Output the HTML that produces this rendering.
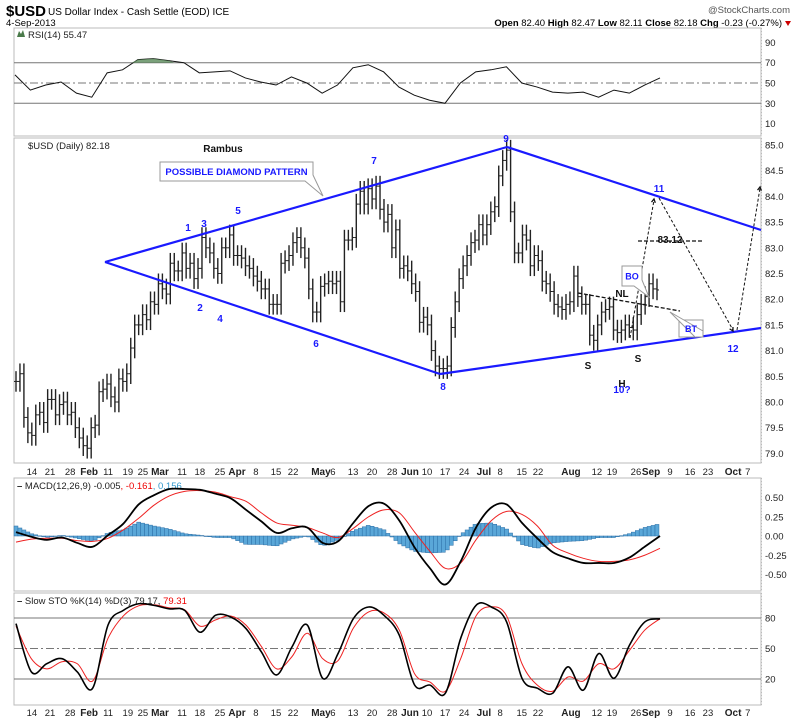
<!DOCTYPE html>
<html><head><meta charset="utf-8"><style>
body{margin:0;background:#fff;}
svg{display:block;font-family:"Liberation Sans",sans-serif;}
</style></head><body>
<svg id="chart" width="799" height="720" viewBox="0 0 799 720" xmlns="http://www.w3.org/2000/svg">
<rect width="799" height="720" fill="#fff"/>
<g>
<text x="6" y="16" font-size="15" font-weight="bold">$USD</text>
<text x="48" y="15" font-size="10">US Dollar Index - Cash Settle (EOD) ICE</text>
<text x="6" y="26" font-size="9.5">4-Sep-2013</text>
<text x="790" y="13" font-size="9.5" text-anchor="end" fill="#555">@StockCharts.com</text>
<text x="782" y="26" font-size="9.5" text-anchor="end"><tspan font-weight="bold">Open</tspan> 82.40 <tspan font-weight="bold">High</tspan> 82.47 <tspan font-weight="bold">Low</tspan> 82.11 <tspan font-weight="bold">Close</tspan> 82.18 <tspan font-weight="bold">Chg</tspan> -0.23 (-0.27%)</text>
<path d="M785 21 L791 21 L788 26 Z" fill="#c00"/>
</g>
<g id="panels"></g>
<g id="marks"></g>
<g id="annot"></g>
</svg>
<script>
const closes=[80.4,80.55,79.7,79.4,79.35,79.75,79.8,79.6,80.05,80.05,
79.75,79.95,80.0,79.75,79.8,79.5,79.3,79.15,79.1,79.5,
79.55,80.2,80.25,80.35,80.1,80.0,80.45,80.4,80.55,81.05,
81.5,81.5,81.7,81.6,81.95,81.9,82.3,82.2,82.1,82.7,
82.55,82.55,82.9,82.6,82.7,82.4,82.6,83.2,83.0,82.9,
82.6,82.5,83.0,83.0,83.25,82.85,82.85,82.8,82.65,82.6,
82.45,82.35,82.2,82.2,81.9,81.9,81.9,82.7,82.75,82.85,
83.1,83.2,83.0,82.8,82.2,81.75,81.75,82.25,
82.3,82.35,82.3,82.35,81.95,83.15,83.15,83.2,83.85,84.1,
83.85,84.15,83.95,84.2,83.75,83.5,83.65,83.0,83.35,82.6,
82.65,82.55,82.3,82.15,81.55,81.65,81.5,81.0,80.7,80.65,
80.65,80.7,81.45,81.95,82.4,82.65,82.85,83.1,83.15,83.45,
83.25,83.45,83.7,83.8,84.4,84.7,84.9,83.7,82.9,82.9,83.25,83.15,82.65,82.85,
82.75,82.35,82.3,82.15,81.9,81.85,81.8,81.9,81.95,82.45,
82.05,81.9,81.9,81.3,81.2,81.5,81.75,81.8,81.85,81.4,
81.35,81.4,81.5,81.45,81.4,81.7,81.9,82.05,82.3,82.2,82.18];
const rsi=[58,43,48,51,40,36,60,63,73,74,72,70,60,61,62,55,51,48,56,50,40,48,65,68,61,46,38,33,30,50,61,63,66,50,46,41,40,41,36,43,40,48,55];
const macd=[0.05,-0.01,-0.05,-0.02,-0.09,-0.14,0.01,0.16,0.41,0.53,0.61,0.61,0.6,0.55,0.49,0.34,0.19,0.04,0.1,0.11,-0.09,-0.07,0.17,0.39,0.42,0.2,-0.15,-0.42,-0.63,-0.33,0.11,0.37,0.41,0.17,-0.03,-0.21,-0.29,-0.35,-0.35,-0.35,-0.28,-0.14,0.0];
const signal=[-0.08,-0.04,-0.03,-0.03,-0.06,-0.07,-0.03,0.08,0.23,0.4,0.52,0.58,0.59,0.57,0.51,0.45,0.3,0.17,0.14,0.11,0.04,-0.02,0.1,0.25,0.34,0.3,0.05,-0.2,-0.42,-0.35,-0.05,0.2,0.32,0.28,0.13,-0.12,-0.22,-0.29,-0.33,-0.33,-0.31,-0.25,-0.16];
const stoK=[74.5,27,35,40,27,11,73,87.5,94,92.4,89,87.5,66,82.6,81,69.6,46.7,24,51.6,73,20.7,45,79.3,90.8,82.6,63,14,14,6,60,92.4,90.8,76,20.7,11,6,32,9,45,20.7,53,76,79.17];
const stoD=[72,40,30,37,35,18,60,82,92,93,90,88,72,78,82,73,52,30,42,65,40,38,70,86,85,68,25,17,8,40,82,91,82,35,14,8,22,18,35,30,48,68,79.31];
const priceTicks=["85.0","84.5","84.0","83.5","83.0","82.5","82.0","81.5","81.0","80.5","80.0","79.5","79.0"];
const rsiTicks=[90,70,50,30,10];
const macdTicks=["0.50","0.25","0.00","-0.25","-0.50"];
const stoTicks=[80,50,20];
const dateLabels=["14","21","28","Feb","11","19","25","Mar","11","18","25","Apr","8","15","22","May","6","13","20","28","Jun","10","17","24","Jul","8","15","22","Aug","12","19","26","Sep","9","16","23","Oct","7"];
const dateDays=[4.1,8.8,14,18.9,23.8,28.9,32.8,37.2,42.9,47.5,52.7,57.1,62,67.2,71.6,78.8,81.9,87.1,92,97.2,101.8,106.2,110.9,115.8,120.9,125.1,130.7,134.9,143.4,150.1,154,160.2,164.1,169,174.2,178.8,185.3,189.1];

const NS="http://www.w3.org/2000/svg";
function mk(parent,tag,attrs){const e=document.createElementNS(NS,tag);for(const k in attrs)e.setAttribute(k,attrs[k]);parent.appendChild(e);return e;}
const L=14,R=761,X0=16,X1=657;
const panels=document.getElementById('panels'),marks=document.getElementById('marks'),annot=document.getElementById('annot');
function xBar(i){return X0+i*(X1-X0)/(closes.length-1);}
function xSeries(i,n,xs,xe){return xs+i*(xe-xs)/(n-1);}
function xDay(d){return X0+d*3.87;}
const yPrice=v=>145+(85-v)*51.4;
const yRsi=v=>83-(v-50)*1.015;
const yMacd=v=>536-v*77;
const ySto=v=>648.5-(v-50)*1.017;

function panel(name,y0,y1){const r=mk(panels,'rect',{x:L,y:y0,width:R-L,height:y1-y0,fill:'#fff',stroke:'#bbb','stroke-width':1});


mk(panels,'line',{x1:R+0.5,y1:y0,x2:R+0.5,y2:y1,stroke:'#bbb','stroke-dasharray':'1,2'});}
panel('rsi-panel',28,136);panel('price-panel',138,463);panel('macd-panel',478,591);panel('sto-panel',593,705);

function axisLabel(txt,y,name){const t=mk(panels,'text',{x:765,y:y+3.5,'font-size':9.5,fill:'#222'});t.textContent=txt;

}
priceTicks.forEach(s=>axisLabel(s,yPrice(parseFloat(s)),'price-tick-label'));
rsiTicks.forEach(v=>axisLabel(String(v),yRsi(v),'rsi-tick-label'));
macdTicks.forEach(s=>axisLabel(s,yMacd(parseFloat(s)),'macd-tick-label'));
stoTicks.forEach(v=>axisLabel(String(v),ySto(v),'sto-tick-label'));

function hline(y,dash,name){const l=mk(panels,'line',{x1:L,y1:y,x2:R,y2:y,stroke:'#777','stroke-width':1});if(dash)l.setAttribute('stroke-dasharray','8,3,2,3');

}
hline(yRsi(70),false,'rsi-70-line');hline(yRsi(30),false,'rsi-30-line');hline(yRsi(50),true,'rsi-50-line');
hline(ySto(80),false,'sto-80-line');hline(ySto(20),false,'sto-20-line');hline(ySto(50),true,'sto-50-line');

function dates(y){dateLabels.forEach((s,i)=>{const bold=isNaN(parseInt(s));const t=mk(panels,'text',{x:xDay(dateDays[i]),y:y,'font-size':bold?10:9.5,'font-weight':bold?'bold':'normal','text-anchor':'middle',fill:'#222'});t.textContent=s;

});}
dates(475);dates(716);

function lbl(x,y,html,name){const t=mk(panels,'text',{x:x,y:y,'font-size':9.5,fill:'#222'});t.innerHTML=html;

}
lbl(28,38,'RSI(14) 55.47','rsi-legend');
mk(panels,'path',{d:'M17 37 L19 31 L21 34 L23 30 L25 37 Z',fill:'#4a7a4a'});
lbl(28,149,'$USD (Daily) 82.18','price-legend');
lbl(17,489,'<tspan font-weight="bold">–</tspan> MACD(12,26,9) -0.005<tspan fill="#e00">, -0.161</tspan><tspan fill="#39c">, 0.156</tspan>','macd-legend');
lbl(17,604,'<tspan font-weight="bold">–</tspan> Slow STO %K(14) %D(3) 79.17, <tspan fill="#e00">79.31</tspan>','sto-legend');

// RSI
const rsiPts=rsi.map((v,i)=>[xSeries(i,rsi.length,15,660),yRsi(v)]);
const rl=mk(marks,'polyline',{points:rsiPts.map(p=>p.join(',')).join(' '),fill:'none',stroke:'#111','stroke-width':1});


const y70=yRsi(70);let seg=[];rsiPts.forEach(p=>{if(p[1]<y70){seg.push(p);}});
if(seg.length){const f=mk(marks,'polygon',{points:[[seg[0][0]-6,y70],...seg,[seg[seg.length-1][0]+6,y70]].map(p=>p.join(',')).join(' '),fill:'#5a8a5a',opacity:0.8});

}

// Price bars
closes.forEach((c,i)=>{const o=i?closes[i-1]:c;const x=xBar(i);const hi=Math.max(o,c)+0.2,lo=Math.min(o,c)-0.2;
const g=mk(marks,'g',{});


mk(g,'line',{x1:x,y1:yPrice(hi),x2:x,y2:yPrice(lo),stroke:'#222','stroke-width':1.4});
mk(g,'line',{x1:x-2,y1:yPrice(o),x2:x,y2:yPrice(o),stroke:'#222','stroke-width':1});
mk(g,'line',{x1:x,y1:yPrice(c),x2:x+2,y2:yPrice(c),stroke:'#222','stroke-width':1});});

// MACD histogram: one bar per trading day, value read between samples
const n=macd.length;
function sampleAt(arr,x,xs,xe){const t=(x-xs)/(xe-xs)*(arr.length-1);const k=Math.max(0,Math.min(arr.length-2,Math.floor(t)));const f=t-k;return arr[k]*(1-f)+arr[k+1]*f;}
const bw=(X1-X0)/(closes.length-1);
closes.forEach((c,i)=>{const x=xBar(i);const h=sampleAt(macd,x,16,660)-sampleAt(signal,x,16,660);const y0=yMacd(0),y1=yMacd(h);
const r=mk(marks,'rect',{x:x-bw/2,y:Math.min(y0,y1),width:bw,height:Math.max(0.5,Math.abs(y1-y0)),fill:'#5aa7d8',stroke:'#2b6ea6','stroke-width':0.5});

});
function smoothPath(pts){let d='M'+pts[0][0]+' '+pts[0][1];for(let i=0;i<pts.length-1;i++){const p0=pts[i-1]||pts[i],p1=pts[i],p2=pts[i+1],p3=pts[i+2]||p2;
d+=` C${p1[0]+(p2[0]-p0[0])/6} ${p1[1]+(p2[1]-p0[1])/6} ${p2[0]-(p3[0]-p1[0])/6} ${p2[1]-(p3[1]-p1[1])/6} ${p2[0]} ${p2[1]}`;}return d;}
function line(arr,fn,color,w,name,xs,xe){const pts=arr.map((v,i)=>[xSeries(i,arr.length,xs,xe),fn(v)]);const p=mk(marks,'path',{d:smoothPath(pts),fill:'none',stroke:color,'stroke-width':w,'stroke-linejoin':'round'});

}
line(signal,yMacd,'#e22',1,'macd-signal-line',16,660);
line(macd,yMacd,'#000',1.8,'macd-line',16,660);
line(stoD,ySto,'#e22',1,'sto-d-line',16,660);
line(stoK,ySto,'#000',1.6,'sto-k-line',16,660);

// Annotations
function al(x1,y1,x2,y2,col,w,dash,name){const l=mk(annot,'line',{x1,y1,x2,y2,stroke:col,'stroke-width':w});if(dash)l.setAttribute('stroke-dasharray',dash);

}
const B='#1a1aff';
al(105,262,507,147,B,2.2,null,'diamond-upper-left');
al(507,147,761,230,B,2.2,null,'diamond-upper-right');
al(105,262,440,374,B,2.2,null,'diamond-lower-left');
al(440,374,761,328,B,2.2,null,'diamond-lower-right');
al(578,293,680,311,'#111',1.3,'4,2','neckline');
al(638,241,702,241,'#111',1.3,'4,2','target-line');
al(630,338,654,200,'#111',1,'3,2','projection-up');
al(659,198,733,330,'#111',1,'3,2','projection-down');
al(737,330,760,188,'#111',1,'3,2','projection-up-2');
function arrowHead(x,y,ang,name){const a=mk(annot,'path',{d:`M${x-4*Math.cos(ang-0.5)} ${y-4*Math.sin(ang-0.5)} L${x} ${y} L${x-4*Math.cos(ang+0.5)} ${y-4*Math.sin(ang+0.5)}`,fill:'none',stroke:'#111','stroke-width':1.3});

}
arrowHead(654,199,Math.atan2(-138,24),'arrow-head-11');
arrowHead(733,331,Math.atan2(132,74),'arrow-head-12');
arrowHead(760,187,Math.atan2(-142,23),'arrow-head-up');
function at(x,y,s,col,size,name){const t=mk(annot,'text',{x,y,'font-size':size,'font-weight':'bold',fill:col,'text-anchor':'middle'});t.textContent=s;

}
[[188,231,'1'],[200,311,'2'],[204,227,'3'],[220,322,'4'],[238,214,'5'],[316,347,'6'],[374,164,'7'],[443,390,'8'],[506,142,'9'],[622,393,'10?'],[659,192,'11'],[733,352,'12']].forEach(a=>at(a[0],a[1],a[2],B,10,'wave-label-'+a[2]));
at(588,369,'S','#111',10,'shoulder-left');at(622,387,'H','#111',10,'head');at(638,362,'S','#111',10,'shoulder-right');
at(622,297,'NL','#111',10,'neckline-label');at(670,243,'83.12','#111',10,'target-price');
at(223,152,'Rambus','#111',10,'author-label');
function callout(x,y,w,h,px,py,txt,size,name){const g=mk(annot,'g',{});


mk(g,'rect',{x,y,width:w,height:h,fill:'#fff',stroke:'#999'});
mk(g,'path',{d:`M${x+w-8} ${y+h} L${px} ${py} L${x+w} ${y+h-6}`,fill:'#fff',stroke:'#999'});
const t=mk(g,'text',{x:x+w/2,y:y+h/2+3.5,'font-size':size,'font-weight':'bold',fill:B,'text-anchor':'middle'});t.textContent=txt;}
callout(160,162,153,19,323,196,'POSSIBLE DIAMOND PATTERN',9.5,'diamond-callout');
callout(622,266,20,20,649,297,'BO',9,'breakout-callout');
callout(679,320,24,17,670,312,'BT',9,'backtest-callout');
</script>
</body></html>
